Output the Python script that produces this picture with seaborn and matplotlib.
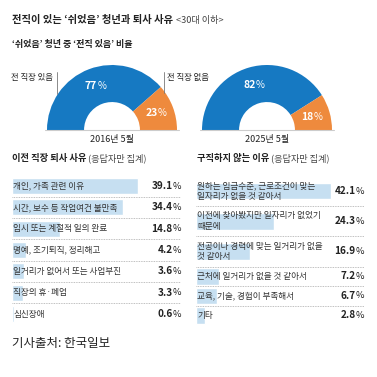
import numpy as np
import pandas as pd
import matplotlib
matplotlib.use('Agg')
import matplotlib.pyplot as plt
import seaborn as sns

# ---- data ----
years = ['2016년 5월', '2025년 5월']
had_job = [77, 23]      # 2016: 전 직장 있음 / 없음
had_job_2025 = [82, 18]

quit_reasons = ['개인, 가족 관련 이유', '시간, 보수 등 작업여건 불만족', '임시 또는 계절적 일의 완료',
                '명예, 조기퇴직, 정리해고', '일거리가 없어서 또는 사업부진', '직장의 휴·폐업', '심신장애']
quit_values = [39.1, 34.4, 14.8, 4.2, 3.6, 3.3, 0.6]

nojob_reasons = ['원하는 임금수준, 근로조건이 맞는\n일자리가 없을 것 같아서',
                 '이전에 찾아봤지만 일자리가 없었기\n때문에',
                 '전공이나 경력에 맞는 일거리가 없을\n것 같아서',
                 '근처에 일거리가 없을 것 같아서', '교육, 기술, 경험이 부족해서', '기타']
nojob_values = [42.1, 24.3, 16.9, 7.2, 6.7, 2.8]

BLUE = '#1679c2'
ORANGE = '#ee8a3d'
BAR = '#c6dff1'
DARK = '#222222'
W = H = 377

sns.set_theme(style='white')
plt.rcParams['font.family'] = ['Noto Sans CJK KR', 'DejaVu Sans']

fig = plt.figure(figsize=(3.77, 3.77), dpi=100)
fig.patch.set_facecolor('white')


def rect(x0, y0, x1, y1):
    return [x0 / W, 1 - y1 / H, (x1 - x0) / W, (y1 - y0) / H]


def multi_text(ax, x, y, parts, ha='left', va='center', xycoords='data'):
    r = fig.canvas.get_renderer()
    ws = []
    for s, kw in parts:
        t = ax.annotate(s, (x, y), xycoords=xycoords, **kw)
        ws.append(t.get_window_extent(r).width)
        t.remove()
    off = {'left': 0, 'center': -sum(ws) / 2, 'right': -sum(ws)}[ha]
    for (s, kw), w in zip(parts, ws):
        ax.annotate(s, (x, y), xycoords=xycoords, xytext=(off, 0), textcoords='offset pixels',
                    ha='left', va=va, annotation_clip=False, **kw)
        off += w


# overlay in pixel coords for headings
ov = fig.add_axes([0, 0, 1, 1])
ov.set_xlim(0, W)
ov.set_ylim(H, 0)
ov.axis('off')
ov.patch.set_visible(False)

multi_text(ov, 12, 23.5, [('전직이 있는 ‘쉬었음’ 청년과 퇴사 사유 ', dict(fontsize=7.4, fontweight='bold', color=DARK)),
                         ('<30대 이하>', dict(fontsize=6.6, color='#444444'))], va='baseline')
ov.text(12, 44, '‘쉬었음’ 청년 중 ‘전직 있음’ 비율', fontsize=6.5, fontweight='bold', color=DARK, va='center')
multi_text(ov, 12, 161, [('이전 직장 퇴사 사유 ', dict(fontsize=6.7, fontweight='bold', color=DARK)),
                         ('(응답자만 집계)', dict(fontsize=6.6, color='#444444'))], va='baseline')
multi_text(ov, 197, 161, [('구직하지 않는 이유 ', dict(fontsize=6.7, fontweight='bold', color=DARK)),
                          ('(응답자만 집계)', dict(fontsize=6.6, color='#444444'))], va='baseline')
ov.text(12, 343, '기사출처: 한국일보', fontsize=9, color='#222222', va='center')

# ---- half donuts ----
R = 65
for (cx, vals, year, labels) in [(112, had_job, years[0], True), (267, had_job_2025, years[1], False)]:
    ax = fig.add_axes(rect(cx - 1.2 * R, 130 - 1.15 * R, cx + 1.2 * R, 130 + 0.2 * R))
    ax.pie(vals + [sum(vals)], colors=[BLUE, ORANGE, 'none'], startangle=180, counterclock=False,
           radius=1, wedgeprops=dict(width=0.57, edgecolor='none'))
    ax.set_xlim(-1.2, 1.2)
    ax.set_ylim(-0.2, 1.15)
    ax.set_aspect('equal')
    ax.axis('off')
    ax.plot([-1.03, 1.03], [0, 0], color='#cccccc', lw=0.8)
    ang = 180.0
    for v in vals:
        span = 180.0 * v / sum(vals)
        mid = np.deg2rad(ang - span / 2)
        rr = 0.72
        multi_text(ax, rr * np.cos(mid), rr * np.sin(mid),
                   [(f'{v}', dict(fontsize=7.5, fontweight='bold', color='white')),
                    ('%', dict(fontsize=7, color='white'))], ha='center')
        ang -= span
    ax.text(0, -0.14, year, fontsize=6.5, color=DARK, ha='center', va='center')
    if labels:
        ax.plot([-0.85, -0.85], [0.55, 0.89], color='#777777', lw=0.6)
        ax.text(-0.91, 0.81, '전 직장 있음', fontsize=6, color=DARK, ha='right', va='center')
        ax.plot([0.8, 0.8], [0.57, 0.89], color='#777777', lw=0.6)
        ax.text(0.85, 0.81, '전 직장 없음', fontsize=6, color=DARK, ha='left', va='center')

XMAX = 52.4

# ---- left bar list ----
axl = fig.add_axes(rect(12, 175.5, 181, 324.8))
dfl = pd.DataFrame({'reason': quit_reasons, 'value': quit_values})
sns.barplot(data=dfl, x='value', y='reason', orient='y', color=BAR, saturation=1,
            width=0.75, errorbar=None, ax=axl)
axl.set_xlim(0, XMAX)
axl.set_ylim(len(quit_reasons) - 0.5, -0.5)
for i in range(len(quit_reasons) - 1):
    axl.axhline(i + 0.5, color='#aaaaaa', lw=0.6, ls=(0, (1, 1)))
for i, (lab, v) in enumerate(zip(quit_reasons, quit_values)):
    axl.annotate(lab, (0, i), xytext=(1, 0), textcoords='offset pixels', fontsize=6.2,
                 color='#333333', va='center', ha='left')
    multi_text(axl, XMAX, i, [(f'{v}', dict(fontsize=7.2, fontweight='bold', color=DARK)),
                              ('%', dict(fontsize=6.6, color=DARK))], ha='right')
axl.axis('off')

# ---- right bar list (rows sized by number of text lines) ----
heights = np.array([1.55 if '\n' in s else 1.0 for s in nojob_reasons])
bounds = np.concatenate([[0], np.cumsum(heights)])
centers = bounds[:-1] + heights / 2
axr = fig.add_axes(rect(196, 176, 364, 325))
dfr = pd.DataFrame({'pos': centers, 'value': nojob_values})
sns.barplot(data=dfr, x='value', y='pos', orient='y', native_scale=True, color=BAR, saturation=1,
            width=0.85, errorbar=None, ax=axr)
axr.set_xlim(0, XMAX)
axr.set_ylim(bounds[-1], 0)
for b in bounds[1:-1]:
    axr.axhline(b, color='#aaaaaa', lw=0.6, ls=(0, (1, 1)))
for c, lab, v in zip(centers, nojob_reasons, nojob_values):
    axr.annotate(lab, (0, c), xytext=(1, 0), textcoords='offset pixels', fontsize=6.2,
                 color='#333333', va='center', ha='left', linespacing=1.25)
    multi_text(axr, XMAX, c, [(f'{v}', dict(fontsize=7.2, fontweight='bold', color=DARK)),
                              ('%', dict(fontsize=6.6, color=DARK))], ha='right')
axr.axis('off')

fig.savefig('out.png', dpi=100, facecolor='white')
